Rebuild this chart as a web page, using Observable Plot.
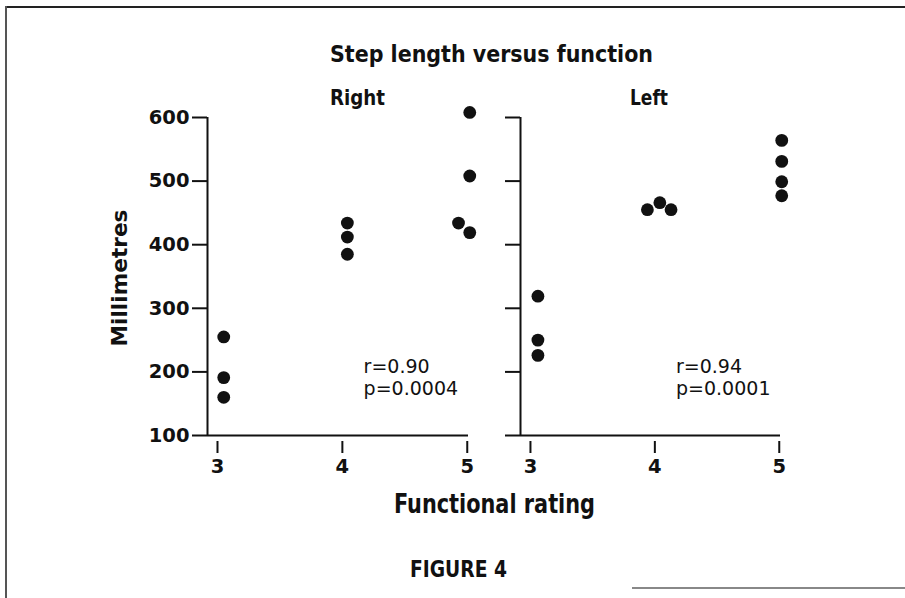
<!DOCTYPE html>
<html><head><meta charset="utf-8">
<script src="https://cdn.jsdelivr.net/npm/d3@7"></script>
<script src="https://cdn.jsdelivr.net/npm/@observablehq/plot@0.6"></script>
<style>
body{margin:0;background:#fff;}
#wrap{position:relative;width:905px;height:598px;overflow:hidden;background:#fff;}
.panel{position:absolute;top:0}
#labels{position:absolute;left:0;top:0}
#labels text{font-family:"DejaVu Sans Condensed","DejaVu Sans",sans-serif;font-weight:700;fill:#111}
</style></head><body>
<div id="wrap">
  <svg id="labels" width="905" height="598" viewBox="0 0 905 598">
    <line x1="5" y1="7" x2="905" y2="7" stroke="#222" stroke-width="2"/>
    <line x1="6" y1="6" x2="6" y2="598" stroke="#555" stroke-width="2"/>
    <line x1="632" y1="588" x2="905" y2="588" stroke="#888" stroke-width="2"/>
    <text x="330" y="62" font-size="23.5" textLength="323" lengthAdjust="spacingAndGlyphs">Step length versus function</text>
    <text x="330" y="105" font-size="20.6" textLength="55" lengthAdjust="spacingAndGlyphs">Right</text>
    <text x="630" y="105" font-size="20.6" textLength="38" lengthAdjust="spacingAndGlyphs">Left</text>
    <text transform="translate(127,278) rotate(-90)" text-anchor="middle" font-size="21.5" textLength="137" lengthAdjust="spacingAndGlyphs">Millimetres</text>
    <text x="394" y="513" font-size="26.5" textLength="201" lengthAdjust="spacingAndGlyphs">Functional rating</text>
    <text x="410" y="577" font-size="23.3" textLength="97" lengthAdjust="spacingAndGlyphs">FIGURE 4</text>
  </svg>
  <div class="panel" id="p1" style="left:0px"></div>
  <div class="panel" id="p2" style="left:480px"></div>
</div>
<script>
const ratings = [3, 4, 5];
const yTicks = [100, 200, 300, 400, 500, 600];
// Right side: functional rating, horizontal plotted position (as drawn), step length (mm)
const rightRating = [3, 3, 3, 4, 4, 4, 5, 5, 5, 5];
const rightX = [3.05, 3.05, 3.05, 4.04, 4.04, 4.04, 5.02, 5.02, 4.93, 5.02];
const rightMm = [255, 191, 160, 434, 412, 385, 608, 508, 434, 419];
const rightStats = ["r=0.90", "p=0.0004"];
// Left side
const leftRating = [3, 3, 3, 4, 4, 4, 5, 5, 5, 5];
const leftX = [3.06, 3.06, 3.06, 3.94, 4.04, 4.13, 5.02, 5.02, 5.02, 5.02];
const leftMm = [319, 250, 226, 455, 466, 455, 564, 531, 499, 477];
const leftStats = ["r=0.94", "p=0.0001"];

const xDomain = [2.92, 5.01];

function panel(xs, ys, ratingsArr, stats, showLabels, width, marginLeft, marginRight) {
  const data = ys.map((v, i) => ({x: xs[i], rating: ratingsArr[i], mm: v}));
  return Plot.plot({
    width, height: 598, marginLeft, marginRight, marginTop: 117, marginBottom: 157,
    style: {fontFamily: "'DejaVu Sans', sans-serif", background: "transparent", color: "#111"},
    x: {domain: xDomain, axis: null},
    y: {domain: [100, 600], range: [435, 117], axis: null},
    marks: [
      Plot.ruleX([xDomain[0]], {y1: 100, y2: 600, strokeWidth: 2, stroke: "#111"}),
      Plot.ruleY([100], {x1: xDomain[0], x2: xDomain[1], strokeWidth: 2, stroke: "#111"}),
      Plot.axisY(yTicks, {label: null, tickSize: 15, tickPadding: 3, fontSize: 19.5, fontWeight: 700, strokeWidth: 2,
        tickFormat: showLabels ? (d => String(d)) : (() => "")}),
      Plot.axisX(ratings, {label: null, tickSize: 12, tickPadding: 6, fontSize: 19.5, fontWeight: 700, strokeWidth: 2,
        tickFormat: d => String(d)}),
      Plot.dot(data, {x: "x", y: "mm", r: 6.4, fill: "#111", stroke: null}),
      Plot.text([stats.join("\n")], {x: 4.17, y: 163, textAnchor: "start", lineAnchor: "bottom",
        lineHeight: 1.16, fontSize: 19, fill: "#111"})
    ]
  });
}

document.getElementById("p1").appendChild(panel(rightX, rightMm, rightRating, rightStats, true, 480, 207, 12));
document.getElementById("p2").appendChild(panel(leftX, leftMm, leftRating, leftStats, false, 425, 40, 125));
</script>
</body></html>
